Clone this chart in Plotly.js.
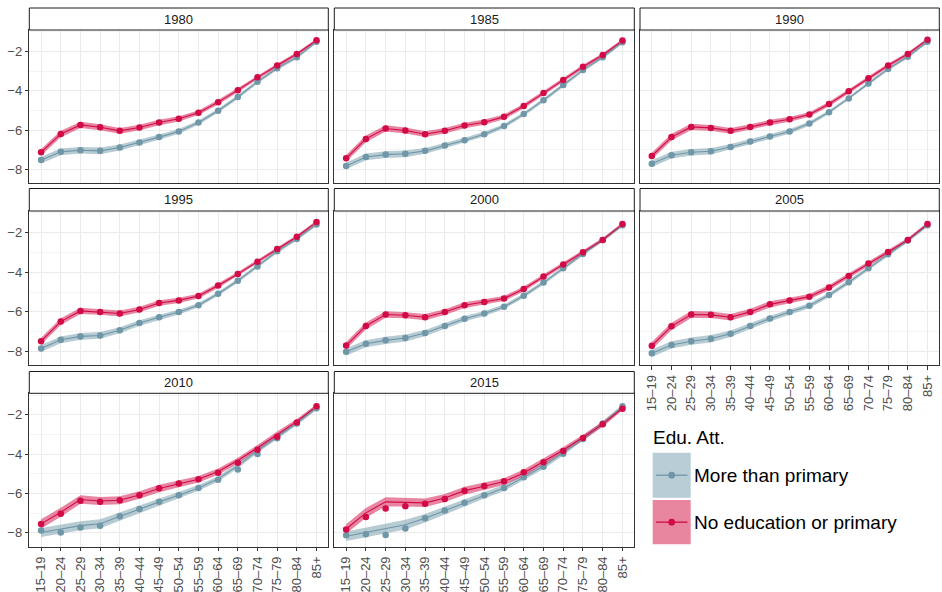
<!DOCTYPE html>
<html>
<head>
<meta charset="utf-8">
<script src="https://cdn.plot.ly/plotly-3.0.1.min.js"></script>
<style>
  html, body { margin: 0; padding: 0; background: #ffffff; }
  #chart { width: 942px; height: 592px; }
</style>
</head>
<body>
<div id="chart"></div>
<script>
// Age groups on the x axis
const ages = ['15–19','20–24','25–29','30–34','35–39','40–44','45–49','50–54',
              '55–59','60–64','65–69','70–74','75–79','80–84','85+'];
const years = ['1980','1985','1990','1995','2000','2005','2010','2015'];

// Log mortality rates, "No education or primary"
const low1980 = [-7.12,-6.19,-5.73,-5.85,-6.03,-5.86,-5.61,-5.42,-5.11,-4.57,-3.96,-3.31,-2.71,-2.12,-1.42];
const low1985 = [-7.43,-6.44,-5.91,-6.01,-6.20,-6.03,-5.76,-5.59,-5.32,-4.77,-4.11,-3.45,-2.77,-2.17,-1.44];
const low1990 = [-7.31,-6.35,-5.83,-5.88,-6.03,-5.84,-5.61,-5.44,-5.20,-4.67,-4.02,-3.36,-2.71,-2.12,-1.39];
const low1995 = [-7.48,-6.49,-5.95,-6.00,-6.08,-5.88,-5.55,-5.42,-5.20,-4.67,-4.09,-3.46,-2.82,-2.20,-1.46];
const low2000 = [-7.70,-6.71,-6.13,-6.17,-6.27,-6.01,-5.66,-5.50,-5.32,-4.84,-4.21,-3.60,-2.99,-2.36,-1.56];
const low2005 = [-7.71,-6.73,-6.13,-6.15,-6.27,-6.00,-5.62,-5.42,-5.23,-4.77,-4.18,-3.56,-2.97,-2.36,-1.56];
const low2010 = [-7.54,-7.02,-6.36,-6.42,-6.34,-6.08,-5.73,-5.49,-5.27,-4.94,-4.43,-3.77,-3.11,-2.39,-1.56];
const low2015 = [-7.83,-7.19,-6.76,-6.64,-6.51,-6.27,-5.86,-5.61,-5.37,-4.92,-4.40,-3.84,-3.17,-2.48,-1.68];

// Log mortality rates, "More than primary"
const high1980 = [-7.52,-7.10,-7.02,-7.05,-6.88,-6.63,-6.35,-6.06,-5.61,-5.01,-4.31,-3.53,-2.85,-2.29,-1.50];
const high1985 = [-7.82,-7.36,-7.24,-7.20,-7.05,-6.78,-6.51,-6.20,-5.79,-5.18,-4.47,-3.70,-2.94,-2.29,-1.52];
const high1990 = [-7.70,-7.27,-7.12,-7.07,-6.85,-6.57,-6.32,-6.06,-5.66,-5.08,-4.38,-3.62,-2.88,-2.26,-1.50];
const high1995 = [-7.85,-7.41,-7.24,-7.19,-6.93,-6.56,-6.27,-6.01,-5.66,-5.08,-4.43,-3.70,-2.94,-2.31,-1.58];
const high2000 = [-8.02,-7.61,-7.44,-7.32,-7.07,-6.71,-6.35,-6.08,-5.74,-5.18,-4.52,-3.80,-3.07,-2.37,-1.62];
const high2005 = [-8.09,-7.67,-7.48,-7.36,-7.10,-6.71,-6.34,-6.01,-5.69,-5.15,-4.50,-3.80,-3.09,-2.39,-1.62];
const high2010 = [-7.88,-7.98,-7.73,-7.63,-7.15,-6.78,-6.42,-6.08,-5.71,-5.30,-4.77,-3.99,-3.19,-2.44,-1.66];
const high2015 = [-8.12,-8.07,-8.10,-7.78,-7.25,-6.86,-6.47,-6.08,-5.71,-5.17,-4.64,-3.97,-3.22,-2.43,-1.56];

// Smoothed fits where they depart from the observed points
const lowFit2010  = [-7.54,-6.95,-6.30,-6.38,-6.34,-6.07,-5.74,-5.50,-5.27,-4.88,-4.32,-3.67,-2.98,-2.33,-1.56];
const lowFit2015  = [-7.80,-6.98,-6.42,-6.44,-6.47,-6.22,-5.85,-5.63,-5.39,-4.95,-4.38,-3.78,-3.15,-2.47,-1.66];
const highFit2010 = [-7.98,-7.81,-7.63,-7.53,-7.15,-6.78,-6.42,-6.08,-5.71,-5.25,-4.58,-3.82,-3.13,-2.42,-1.64];
const highFit2015 = [-8.17,-7.97,-7.76,-7.58,-7.25,-6.86,-6.47,-6.08,-5.71,-5.17,-4.60,-3.93,-3.20,-2.44,-1.58];

// Half-width of the uncertainty bands by age, and a widening factor per year
const lowBand  = [0.17,0.17,0.16,0.15,0.15,0.14,0.14,0.13,0.12,0.12,0.11,0.10,0.10,0.09,0.08];
const highBand = [0.17,0.17,0.17,0.17,0.15,0.14,0.13,0.12,0.11,0.10,0.10,0.09,0.09,0.08,0.08];
const bandScale = [1, 1, 1, 1, 1.05, 1.1, 1.35, 1.45];

const lowObs  = [low1980, low1985, low1990, low1995, low2000, low2005, low2010, low2015];
const highObs = [high1980, high1985, high1990, high1995, high2000, high2005, high2010, high2015];
const lowFit  = [low1980, low1985, low1990, low1995, low2000, low2005, lowFit2010, lowFit2015];
const highFit = [high1980, high1985, high1990, high1995, high2000, high2005, highFit2010, highFit2015];

const W = 942, H = 592;
const RED = '#D20B47', BLUE = '#6F97A8';
const RED_FILL = 'rgba(210,11,71,0.5)', BLUE_FILL = 'rgba(111,151,168,0.5)';
const FONT = 'Liberation Sans, Arial, Helvetica, sans-serif';

// Facet grid geometry (pixels)
const cols = [[29.3, 328.3], [334.3, 634.3], [640, 939.3]];
const rows = [[30, 183.3], [211, 365.3], [393.3, 546.7]];
const strips = [[8, 30], [188.5, 211], [371.5, 393.3]];

const data = [];
const layout = {
  width: W, height: H,
  margin: {l: 0, r: 0, t: 0, b: 0},
  paper_bgcolor: '#ffffff', plot_bgcolor: '#ffffff',
  showlegend: false,
  font: {family: FONT, color: '#4D4D4D', size: 13},
  shapes: [], annotations: []
};

function band(center, half, k) {
  const up = center.map((v, i) => v + half[i] * k);
  const dn = center.map((v, i) => v - half[i] * k).reverse();
  return up.concat(dn);
}

years.forEach((yr, i) => {
  const r = Math.floor(i / 3), c = i % 3;
  const n = i === 0 ? '' : String(i + 1);
  const xa = 'x' + n, ya = 'y' + n;
  const polyX = ages.concat(ages.slice().reverse());
  const k = bandScale[i];

  // ribbons
  data.push({type: 'scatter', mode: 'lines', x: polyX, y: band(highFit[i], highBand, k),
    fill: 'toself', fillcolor: BLUE_FILL, line: {width: 0}, hoverinfo: 'skip', xaxis: xa, yaxis: ya});
  data.push({type: 'scatter', mode: 'lines', x: polyX, y: band(lowFit[i], lowBand, k),
    fill: 'toself', fillcolor: RED_FILL, line: {width: 0}, hoverinfo: 'skip', xaxis: xa, yaxis: ya});
  // fitted lines
  data.push({type: 'scatter', mode: 'lines', x: ages, y: highFit[i],
    line: {color: BLUE, width: 1.1}, xaxis: xa, yaxis: ya});
  data.push({type: 'scatter', mode: 'lines', x: ages, y: lowFit[i],
    line: {color: RED, width: 1.1}, xaxis: xa, yaxis: ya});
  // observed points
  data.push({type: 'scatter', mode: 'markers', x: ages, y: highObs[i],
    marker: {color: BLUE, size: 6.5}, xaxis: xa, yaxis: ya});
  data.push({type: 'scatter', mode: 'markers', x: ages, y: lowObs[i],
    marker: {color: RED, size: 6.5}, xaxis: xa, yaxis: ya});

  const showX = (r === 2) || (r === 1 && c === 2);
  const showY = (c === 0);

  layout['xaxis' + n] = {
    domain: [cols[c][0] / W, cols[c][1] / W], anchor: ya,
    type: 'category', categoryorder: 'array', categoryarray: ages,
    range: [-0.6, 14.6], fixedrange: true,
    tickmode: 'array', tickvals: ages, ticktext: ages,
    showticklabels: showX, ticks: showX ? 'outside' : '', ticklen: 3.5, tickwidth: 1, tickcolor: '#333333',
    tickangle: -90, tickfont: {family: FONT, size: 13, color: '#4D4D4D'},
    showgrid: true, gridcolor: '#EBEBEB', gridwidth: 1,
    showline: true, mirror: true, linecolor: '#333333', linewidth: 1, zeroline: false
  };
  layout['yaxis' + n] = {
    domain: [1 - rows[r][1] / H, 1 - rows[r][0] / H], anchor: xa,
    range: [-8.70, -0.90], fixedrange: true,
    tickmode: 'array', tickvals: [-8, -6, -4, -2],
    minor: {tickmode: 'array', tickvals: [-7, -5, -3, -1], showgrid: true, gridcolor: '#F1F1F1', gridwidth: 0.8, ticks: ''},
    showticklabels: showY, ticks: showY ? 'outside' : '', ticklen: 3.5, tickwidth: 1, tickcolor: '#333333',
    tickfont: {family: FONT, size: 13, color: '#4D4D4D'},
    showgrid: true, gridcolor: '#EBEBEB', gridwidth: 1,
    showline: true, mirror: true, linecolor: '#333333', linewidth: 1, zeroline: false
  };

  // facet strip
  layout.shapes.push({type: 'rect', xref: 'paper', yref: 'paper',
    x0: cols[c][0] / W, x1: cols[c][1] / W,
    y0: 1 - strips[r][1] / H, y1: 1 - strips[r][0] / H,
    fillcolor: '#ffffff', line: {color: '#1A1A1A', width: 1}});
  layout.annotations.push({xref: 'paper', yref: 'paper',
    x: (cols[c][0] + cols[c][1]) / 2 / W, y: 1 - (strips[r][0] + strips[r][1]) / 2 / H,
    xanchor: 'center', yanchor: 'middle', showarrow: false,
    text: yr, font: {family: FONT, size: 13, color: '#1A1A1A'}});
});

// Legend: title and two keys
const legendItems = [
  {label: 'More than primary', line: BLUE, fill: '#B8CDD5', top: 452.7, bottom: 497.7},
  {label: 'No education or primary', line: RED, fill: '#E8869F', top: 500, bottom: 544.3}
];
layout.annotations.push({xref: 'paper', yref: 'paper', x: 651 / W, y: 1 - 437 / H,
  xanchor: 'left', yanchor: 'middle', showarrow: false, text: 'Edu. Att.',
  font: {family: FONT, size: 19, color: '#000000'}});
legendItems.forEach(it => {
  const cy = (it.top + it.bottom) / 2;
  layout.shapes.push({type: 'rect', xref: 'paper', yref: 'paper',
    x0: 652.7 / W, x1: 690.7 / W, y0: 1 - it.bottom / H, y1: 1 - it.top / H,
    fillcolor: it.fill, line: {width: 0}});
  layout.shapes.push({type: 'line', xref: 'paper', yref: 'paper',
    x0: 656 / W, x1: 687.5 / W, y0: 1 - cy / H, y1: 1 - cy / H,
    line: {color: it.line, width: 1.3}});
  layout.shapes.push({type: 'circle', xref: 'paper', yref: 'paper',
    x0: (671.7 - 3.4) / W, x1: (671.7 + 3.4) / W, y0: 1 - (cy + 3.4) / H, y1: 1 - (cy - 3.4) / H,
    fillcolor: it.line, line: {width: 0}});
  layout.annotations.push({xref: 'paper', yref: 'paper', x: 691.5 / W, y: 1 - cy / H,
    xanchor: 'left', yanchor: 'middle', showarrow: false, text: it.label,
    font: {family: FONT, size: 19, color: '#000000'}});
});

Plotly.newPlot('chart', data, layout, {staticPlot: true, displayModeBar: false});
</script>
</body>
</html>
